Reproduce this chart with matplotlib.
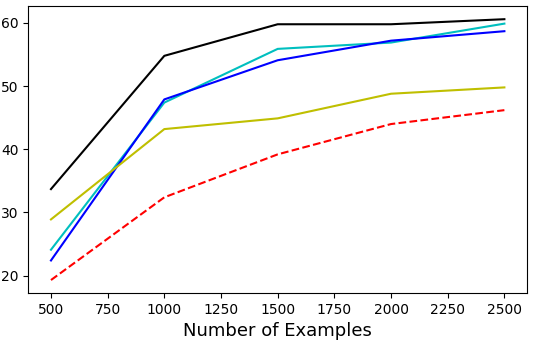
import matplotlib
matplotlib.use("Agg")
import matplotlib.pyplot as plt

examples = [500, 1000, 1500, 2000, 2500]
black_vals = [33.7, 54.8, 59.8, 59.8, 60.6]
cyan_vals = [24.1, 47.4, 55.9, 56.9, 59.9]
blue_vals = [22.4, 47.9, 54.1, 57.2, 58.7]
yellow_vals = [28.9, 43.2, 44.9, 48.8, 49.8]
red_vals = [19.3, 32.4, 39.2, 44.0, 46.2]

fig, ax = plt.subplots(figsize=(5.34, 3.42), dpi=100)
ax.plot(examples, black_vals, 'k-')
ax.plot(examples, cyan_vals, 'c-')
ax.plot(examples, blue_vals, 'b-')
ax.plot(examples, yellow_vals, 'y-')
ax.plot(examples, red_vals, 'r--')

ax.set_xlabel('Number of Examples', fontsize=13)
ax.tick_params(labelsize=10)
fig.subplots_adjust(left=0.053, right=0.987, top=0.982, bottom=0.143)
fig.savefig('out.png')
